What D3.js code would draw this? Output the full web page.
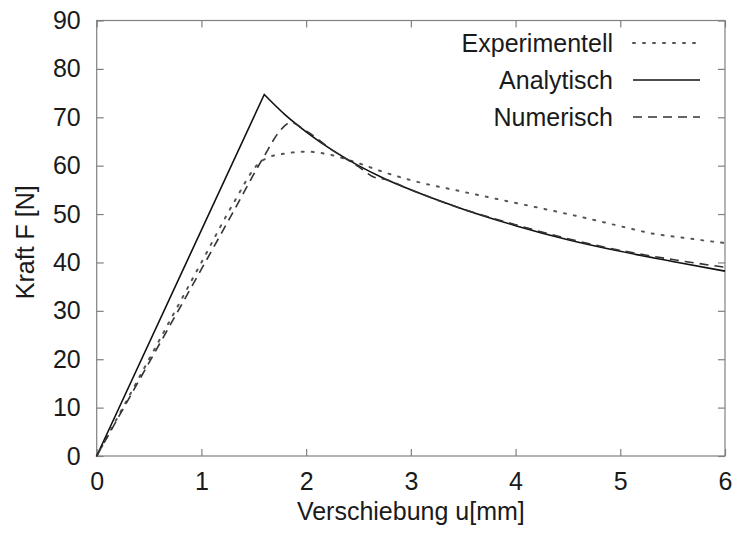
<!DOCTYPE html>
<html>
<head>
<meta charset="utf-8">
<script src="https://cdn.jsdelivr.net/npm/d3@7"></script>
<style>
  body { margin: 0; background: #fff; }
  text { font-family: "Liberation Sans", Arial, sans-serif; fill: #1a1a1a; }
</style>
</head>
<body>
<div id="chart"></div>
<script>
// values: u in mm, F in N
const experimentell = [
  [0, 0], [0.5, 20], [1, 40], [1.3, 52], [1.55, 60.5], [1.65, 61.8], [1.8, 62.5],
  [2, 62.9], [2.2, 62.4], [2.5, 60.5], [2.75, 58.6], [3, 57], [3.5, 54.6],
  [4, 52.3], [4.5, 50], [5, 47.5], [5.3, 46], [5.6, 45.1], [6, 44]
];
const analytisch = [
  [0, 0], [1.6, 74.7], [1.8, 70.5], [2, 67], [2.25, 63.2], [2.5, 60], [2.75, 57.3],
  [3, 55], [3.5, 51], [4, 47.6], [4.5, 44.7], [5, 42.3], [5.5, 40.2], [6, 38.2]
];
const numerisch = [
  [0, 0], [0.5, 19.3], [1, 38.6], [1.3, 50.3], [1.6, 62], [1.75, 67.2], [1.85, 68.9],
  [2, 67.2], [2.25, 63.2], [2.5, 59.8], [2.65, 57.6], [2.75, 57.2], [3, 55],
  [3.5, 51], [4, 47.8], [4.5, 44.9], [5, 42.5], [5.5, 40.6], [6, 39]
];
const xTicks = [0, 1, 2, 3, 4, 5, 6];
const yTicks = [0, 10, 20, 30, 40, 50, 60, 70, 80, 90];
const seriesNames = ["Experimentell", "Analytisch", "Numerisch"];

const width = 735, height = 533;
const margin = { top: 20.5, right: 10, bottom: 77, left: 96.7 };
const innerW = width - margin.left - margin.right;
const innerH = height - margin.top - margin.bottom;
const fontSize = "25px";

const svg = d3.select("#chart")
  .append("svg")
  .attr("width", width)
  .attr("height", height);

const g = svg.append("g")
  .attr("transform", `translate(${margin.left},${margin.top})`);

const x = d3.scaleLinear().domain([0, 6]).range([0, innerW]);
const y = d3.scaleLinear().domain([0, 90]).range([innerH, 0]);

const axisColor = "#808080";
const tickLen = 7;

// frame
g.append("rect")
  .attr("width", innerW)
  .attr("height", innerH)
  .attr("fill", "none")
  .attr("stroke", axisColor)
  .attr("stroke-width", 1.2);

// ticks on all four sides, pointing inward
const addAxis = (axis, tx, ty) => {
  const a = g.append("g")
    .attr("transform", `translate(${tx},${ty})`)
    .call(axis);
  a.select(".domain").remove();
  a.selectAll("line").attr("stroke", axisColor).attr("stroke-width", 1.2);
  a.selectAll("text")
    .style("font-size", fontSize)
    .attr("fill", "#1a1a1a");
  return a;
};

addAxis(d3.axisBottom(x).tickValues(xTicks).tickSize(-tickLen).tickPadding(16).tickFormat(d3.format("d")), 0, innerH);
addAxis(d3.axisTop(x).tickValues(xTicks).tickSize(-tickLen).tickFormat(""), 0, 0);
addAxis(d3.axisLeft(y).tickValues(yTicks).tickSize(-tickLen).tickPadding(16).tickFormat(d3.format("d")), 0, 0);
addAxis(d3.axisRight(y).tickValues(yTicks).tickSize(-tickLen).tickFormat(""), innerW, 0);

// axis titles
svg.append("text")
  .attr("x", margin.left + innerW / 2)
  .attr("y", 520)
  .attr("text-anchor", "middle")
  .style("font-size", fontSize)
  .text("Verschiebung u[mm]");

svg.append("text")
  .attr("transform", `translate(34,${margin.top + innerH / 2 + 4}) rotate(-90)`)
  .attr("text-anchor", "middle")
  .style("font-size", fontSize)
  .text("Kraft F [N]");

// straight rise, smooth after the kink
const line = d3.line()
  .x(d => x(d[0]))
  .y(d => y(d[1]))
  .curve(d3.curveMonotoneX);

const styles = [
  { data: experimentell, dash: "2,8", width: 2, color: "#555", cap: "round" },
  { data: analytisch, dash: null, width: 1.6, color: "#111", cap: "butt" },
  { data: numerisch, dash: "9,6", width: 1.6, color: "#333", cap: "butt" }
];

const kinked = data => {
  const rise = `M${x(data[0][0])},${y(data[0][1])}`;
  return rise + line(data.slice(1)).replace(/^M/, "L");
};

styles.forEach(s => {
  g.append("path")
    .datum(s.data)
    .attr("fill", "none")
    .attr("stroke", s.color)
    .attr("stroke-width", s.width)
    .attr("stroke-dasharray", s.dash)
    .attr("stroke-linecap", s.cap)
    .attr("d", s.data === analytisch ? kinked(s.data) : line(s.data));
});

// legend
const legend = svg.append("g");
const legendY = d3.scalePoint().domain(seriesNames).range([43, 117]);
seriesNames.forEach((name, i) => {
  const s = styles[i];
  const yy = legendY(name);
  legend.append("text")
    .attr("x", 613)
    .attr("y", yy)
    .attr("dy", "0.35em")
    .attr("text-anchor", "end")
    .style("font-size", fontSize)
    .text(name);
  legend.append("line")
    .attr("x1", 633)
    .attr("x2", 700)
    .attr("y1", yy)
    .attr("y2", yy)
    .attr("stroke", s.color)
    .attr("stroke-width", s.width)
    .attr("stroke-linecap", s.cap)
    .attr("stroke-dasharray", s.dash);
});
</script>
</body>
</html>
